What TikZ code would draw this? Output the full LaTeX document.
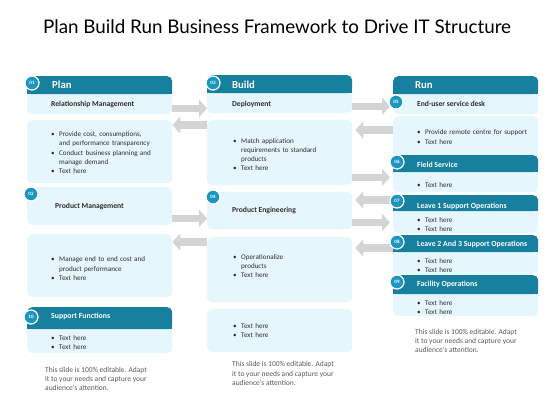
\documentclass[tikz,border=0pt]{standalone}
\usepackage{fontspec}
\setmainfont{Carlito}
\newfontfamily\titlefont{Lato}
\usetikzlibrary{positioning,arrows.meta}
\definecolor{hdrteal}{HTML}{17809F}
\definecolor{numblue}{HTML}{1B96C0}
\definecolor{cardblue}{HTML}{E5F6FC}
\definecolor{arrowgray}{HTML}{D4D4D4}
\definecolor{txtdark}{HTML}{2E2E2E}
\definecolor{notegray}{HTML}{5A5A5A}
\newcommand{\nl}{\hfil\break}
\newcommand{\bitem}[1]{\par\hangindent=8pt\hangafter=1\noindent\hbox to 8pt{\textbullet\hfil}#1}

\begin{document}
\begin{tikzpicture}[x=1pt,y=-1pt,
  card/.style={fill=cardblue,rounded corners=5pt,anchor=north west,inner sep=0pt,minimum width=145pt},
  hdr/.style={fill=hdrteal,rounded corners=5pt,anchor=north west,inner sep=0pt,minimum width=145pt},
  num/.style={circle,fill=numblue,draw=white,line width=1.2pt,minimum size=14pt,inner sep=0pt,text=white,font=\bfseries\fontsize{5}{5}\selectfont},
  hdrtxt/.style={anchor=west,inner sep=0pt,text=white,font=\bfseries\fontsize{10.7}{12}\selectfont},
  subtxt/.style={anchor=west,inner sep=0pt,text=white,font=\bfseries\fontsize{7.8}{9}\selectfont},
  lbl/.style={anchor=west,inner sep=0pt,text=txtdark,font=\bfseries\fontsize{7.6}{9}\selectfont},
  blist/.style={anchor=west,inner sep=0pt,text width=118pt,text=txtdark,font=\fontsize{7.1}{9.2}\selectfont},
  note/.style={anchor=west,inner sep=0pt,align=left,text=notegray,font=\fontsize{7.5}{9.3}\selectfont},
  garrow/.style={draw=arrowgray,line width=7.5pt,-{Triangle[length=8pt,width=17pt]}}]
\useasboundingbox[fill=white] (0,0) rectangle (560,420);

\node[font=\titlefont\fontsize{18.8}{22}\selectfont] (title) at (277,27) {Plan Build Run Business Framework to Drive IT Structure};

% plan
\node[card,minimum height=38pt] (planA) at (27,76) {};
\node[hdr,minimum height=18pt] (planH) at (27,76) {};
\fill[hdrteal] (planH.west) rectangle (planH.south east);
\node[card,minimum height=63pt] (planB) at (27,120) {};
\node[card,minimum height=38pt] (planC) at (27,187) {};
\node[card,minimum height=63pt] (planD) at (27,234) {};
\node[card,minimum height=46pt] (planE) at (27,307) {};
\node[hdr,minimum height=22pt] (planF) at (27,307) {};
\fill[hdrteal] (planF.west) rectangle (planF.south east);

% build
\node[card,minimum height=38pt] (buildA) at (207,75) {};
\node[hdr,minimum height=18pt] (buildH) at (207,75) {};
\fill[hdrteal] (buildH.west) rectangle (buildH.south east);
\node[card,minimum height=65pt] (buildB) at (207,120) {};
\node[card,minimum height=37pt] (buildC) at (207,192) {};
\node[card,minimum height=65pt] (buildD) at (207,237) {};
\node[card,minimum height=43pt] (buildE) at (207,309) {};

% run
\node[card,minimum height=38pt] (runA) at (393,76) {};
\node[hdr,minimum height=18pt] (runH) at (393,76) {};
\fill[hdrteal] (runH.west) rectangle (runH.south east);
\node[card,minimum height=42pt] (runB) at (393,116) {};
\node[card,minimum height=37pt] (runC) at (393,155) {};
\node[hdr,minimum height=17pt] (runCH) at (393,155) {};
\fill[hdrteal] (runCH.west) rectangle (runCH.south east);
\node[card,minimum height=38pt] (runD) at (393,195) {};
\node[hdr,minimum height=16pt] (runDH) at (393,195) {};
\fill[hdrteal] (runDH.west) rectangle (runDH.south east);
\node[card,minimum height=39pt] (runE) at (393,235) {};
\node[hdr,minimum height=17pt] (runEH) at (393,235) {};
\fill[hdrteal] (runEH.west) rectangle (runEH.south east);
\node[card,minimum height=41pt] (runF) at (393,275) {};
\node[hdr,minimum height=19pt] (runFH) at (393,275) {};
\fill[hdrteal] (runFH.west) rectangle (runFH.south east);

% arrows
\coordinate (r1) at ([yshift=6pt]planA.south east);
\draw[garrow] (r1) -- (r1 -| buildA.west);
\coordinate (l1) at ([yshift=-5pt]buildB.north west);
\draw[garrow] (l1) -- (l1 -| planB.east);
\coordinate (r2) at ([yshift=7pt]planC.south east);
\draw[garrow] (r2) -- (r2 -| buildC.west);
\coordinate (l2) at ([yshift=-5pt]buildD.north west);
\draw[garrow] (l2) -- (l2 -| planD.east);
\coordinate (r3) at ([yshift=7pt]buildA.south east);
\draw[garrow,shorten >=3pt] (r3) -- (r3 -| runA.west);
\coordinate (l3) at ([yshift=-14pt]runB.north west);
\draw[garrow,shorten >=3pt] (l3) -- (l3 -| buildB.east);
\coordinate (r4) at ([yshift=8pt]buildB.south east);
\draw[garrow,shorten >=3pt] (r4) -- (r4 -| runC.west);
\coordinate (l4) at ([yshift=-5pt]runD.north west);
\draw[garrow,shorten >=3pt] (l4) -- (l4 -| buildC.east);
\coordinate (r5) at ([yshift=7pt]buildC.south east);
\draw[garrow,shorten >=3pt] (r5) -- (r5 -| runD.west);
\coordinate (l5) at ([yshift=-13pt]runE.north west);
\draw[garrow,shorten >=3pt] (l5) -- (l5 -| buildD.east);

% plan texts
\node[num] (n01) at (32,83) {01};
\node[hdrtxt] (plan) at (52,84.5) {Plan};
\node[lbl] (relm) at (51,104) {Relationship Management};
\node[blist] (planL1) at (51,150.5) {\bitem{Provide cost, consumptions,\nl and performance transparency}\bitem{Conduct business planning and\nl manage demand}\bitem{Text here}};
\node[num] (n02) at (31,194) {02};
\node[lbl] (prodm) at (55,206.5) {Product Management};
\node[blist] (planL2) at (51,266.5) {\bitem{Manage end to end cost and\nl product performance}\bitem{Text here}};
\node[num] (n10) at (31,317) {10};
\node[subtxt] (suppf) at (51,316.5) {Support Functions};
\node[blist] (planL3) at (51,340.5) {\bitem{Text here}\bitem{Text here}};
\node[note] (planN) at (45,379) {This slide is 100\% editable. Adapt\\it to your needs and capture your\\audience's attention.};

% build texts
\node[num] (n03) at (213,83) {03};
\node[hdrtxt] (build) at (232,84.5) {Build};
\node[lbl] (deploy) at (232,104.5) {Deployment};
\node[blist] (buildL1) at (233,152.5) {\bitem{Match application\nl requirements to standard\nl products}\bitem{Text here}};
\node[num] (n04) at (213,197) {04};
\node[lbl] (prode) at (232,210) {Product Engineering};
\node[blist] (buildL2) at (233,264) {\bitem{Operationalize\nl products}\bitem{Text here}};
\node[blist] (buildL3) at (233,328.5) {\bitem{Text here}\bitem{Text here}};
\node[note] (buildN) at (232,373.5) {This slide is 100\% editable. Adapt\\it to your needs and capture your\\audience's attention.};

% run texts
\node[hdrtxt] (run) at (415,85) {Run};
\node[num] (n05) at (396,102) {05};
\node[lbl] (desk) at (417,104) {End-user service desk};
\node[blist] (runL1) at (417,135) {\bitem{Provide remote centre for support}\bitem{Text here}};
\node[num] (n06) at (397,162) {06};
\node[subtxt] (field) at (417,164.5) {Field Service};
\node[blist] (runL2) at (417,183) {\bitem{Text here}};
\node[num] (n07) at (397,201) {07};
\node[subtxt] (leave1) at (417,206) {Leave 1 Support Operations};
\node[blist] (runL3) at (417,222.5) {\bitem{Text here}\bitem{Text here}};
\node[num] (n08) at (397,242) {08};
\node[subtxt] (leave2) at (417,244) {Leave 2 And 3 Support Operations};
\node[blist] (runL4) at (417,263.5) {\bitem{Text here}\bitem{Text here}};
\node[num] (n09) at (397,282) {09};
\node[subtxt] (facil) at (417,284) {Facility Operations};
\node[blist] (runL5) at (417,305.5) {\bitem{Text here}\bitem{Text here}};
\node[note] (runN) at (415,341) {This slide is 100\% editable. Adapt\\it to your needs and capture your\\audience's attention.};
\end{tikzpicture}
\end{document}
